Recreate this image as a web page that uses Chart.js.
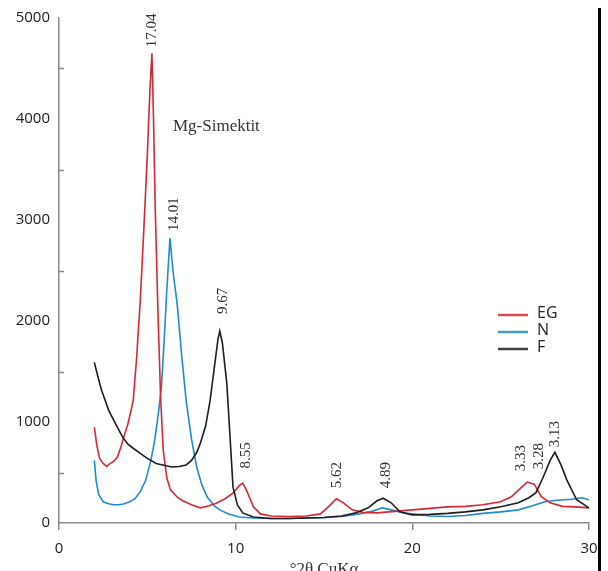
<!DOCTYPE html>
<html lang="tr">
<head>
<meta charset="utf-8">
<title>Mg-Simektit XRD</title>
<script src="https://cdn.jsdelivr.net/npm/chart.js@4.4.1/dist/chart.umd.min.js"></script>
<style>
    html, body { margin: 0; padding: 0; background: #fff; }
    #wrap { position: relative; width: 608px; height: 571px; overflow: hidden; }
    #edge { position: absolute; left: 598px; top: 8px; width: 3px; height: 563px; background: #000; }
</style>
</head>
<body>
<div id="wrap">
    <canvas id="xrdChart" width="608" height="571"></canvas>
    <div id="edge"></div>
</div>
<script>
// Diffraction patterns, °2θ against counts
const egAngles = [2.0, 2.15, 2.3, 2.5, 2.7, 2.9, 3.1, 3.3, 3.5, 3.7, 3.9, 4.1, 4.2, 4.4, 4.6, 4.8, 5.0, 5.15, 5.26, 5.35, 5.45, 5.6, 5.75, 5.9, 6.1, 6.3, 6.7, 7.0, 7.5, 8.0, 8.5, 8.9, 9.4, 9.85, 10.2, 10.4, 10.6, 11.0, 11.4, 12, 13, 14, 14.8, 15.3, 15.7, 16.1, 16.6, 17.2, 18, 19, 20, 21, 22, 23, 24, 25, 25.6, 26.1, 26.5, 26.9, 27.3, 27.8, 28.5, 29.2, 30];
const egCounts = [950, 760, 640, 590, 560, 590, 610, 650, 750, 870, 980, 1130, 1210, 1650, 2200, 2900, 3650, 4300, 4650, 4000, 3100, 2100, 1250, 720, 450, 330, 255, 220, 180, 150, 170, 195, 240, 295, 370, 395, 330, 160, 90, 70, 65, 70, 90, 170, 240, 200, 130, 105, 100, 115, 130, 145, 160, 165, 180, 210, 260, 340, 405, 385, 260, 200, 165, 160, 150];

const nAngles = [2.0, 2.1, 2.25, 2.5, 2.8, 3.1, 3.4, 3.7, 4.0, 4.3, 4.6, 4.9, 5.2, 5.4, 5.6, 5.8, 5.95, 6.1, 6.28, 6.45, 6.7, 6.95, 7.2, 7.5, 7.8, 8.1, 8.4, 8.8, 9.1, 9.6, 10.2, 11, 12, 13, 14, 15, 16, 17, 17.8, 18.3, 18.8, 19.5, 20.2, 21, 22, 23, 24, 25, 26, 26.8, 27.5, 28.2, 29, 29.6, 30];
const nCounts = [620, 420, 280, 210, 190, 180, 180, 190, 210, 240, 310, 420, 620, 800, 1050, 1350, 1800, 2300, 2820, 2500, 2150, 1650, 1210, 830, 550, 370, 255, 170, 130, 90, 60, 50, 45, 45, 50, 55, 65, 90, 120, 150, 130, 100, 85, 70, 65, 75, 95, 110, 130, 170, 210, 225, 235, 250, 230];

const fAngles = [2.0, 2.2, 2.4, 2.6, 2.8, 3.0, 3.3, 3.6, 3.9, 4.2, 4.6, 5.0, 5.5, 6.0, 6.4, 6.8, 7.2, 7.5, 7.8, 8.0, 8.3, 8.55, 8.8, 9.0, 9.1, 9.25, 9.5, 9.7, 9.85, 10.1, 10.4, 11, 12, 13, 14, 15, 16, 16.8, 17.5, 18, 18.35, 18.8, 19.3, 20, 21, 22, 23, 24, 25, 26, 26.6, 27, 27.4, 27.8, 28.07, 28.4, 28.75, 29.3, 30];
const fCounts = [1590, 1450, 1320, 1220, 1120, 1050, 950, 850, 780, 740, 690, 640, 590, 570, 555, 560, 575, 620, 700, 790, 960, 1210, 1550, 1820, 1900, 1780, 1380, 800, 355, 180, 100, 60, 45, 45, 50, 55, 70, 100, 150, 220, 245, 200, 110, 80, 85, 95, 110, 130, 160, 200, 250, 300, 450, 620, 700, 580, 425, 230, 150];

// d-spacing labels (Å) and where each sits: °2θ and the count at its lower end
const peakTexts = ['17.04', '14.01', '9.67', '8.55', '5.62', '4.89', '3.33', '3.28', '3.13'];
const peakAngles = [5.26, 6.5, 9.28, 10.58, 15.73, 18.5, 26.15, 27.2, 28.07];
const peakCounts = [4710, 2890, 2070, 540, 345, 345, 513, 532, 750];

const seriesNames = ['EG', 'N', 'F'];
const seriesColors = ['rgb(214, 40, 52)', 'rgb(32, 138, 210)', 'rgb(30, 30, 30)'];

const xTicks = [0, 10, 20, 30];
const yMax = 5000;

function toPoints(xs, ys) {
    return xs.map((x, i) => ({ x: x, y: ys[i] }));
}

/**
 * Small inward tick marks on the y axis at the half-thousands
 */
const minorTicks = {
    id: 'minorTicks',
    afterDraw(chart) {
        const ctx = chart.ctx;
        const y = chart.scales.y;
        ctx.save();
        ctx.strokeStyle = '#8a8a8a';
        ctx.lineWidth = 1.5;
        for (let v = 500; v < yMax; v += 1000) {
            const py = Math.round(y.getPixelForValue(v)) + 0.5;
            ctx.beginPath();
            ctx.moveTo(y.right, py);
            ctx.lineTo(y.right + 5, py);
            ctx.stroke();
        }
        ctx.restore();
    }
};

/**
 * Peak labels, sample name, legend and axis title
 */
const annotations = {
    id: 'annotations',
    afterDraw(chart) {
        const ctx = chart.ctx;
        const xs = chart.scales.x;
        const ys = chart.scales.y;
        const area = chart.chartArea;
        ctx.save();

        // rotated d-spacing values
        ctx.fillStyle = '#333';
        ctx.font = '15px "Liberation Serif", "Times New Roman", serif';
        ctx.textAlign = 'left';
        ctx.textBaseline = 'middle';
        peakTexts.forEach((t, i) => {
            ctx.save();
            ctx.translate(xs.getPixelForValue(peakAngles[i]), ys.getPixelForValue(peakCounts[i]));
            ctx.rotate(-Math.PI / 2);
            ctx.fillText(t, 0, 0);
            ctx.restore();
        });

        // sample name
        ctx.font = '17px "Liberation Serif", "Times New Roman", serif';
        ctx.fillText('Mg-Simektit', xs.getPixelForValue(6.45), ys.getPixelForValue(3925));

        // legend
        const legendX = 498;
        const legendY = [315, 332, 349];
        ctx.font = '16px "Open Sans", sans-serif';
        seriesNames.forEach((name, i) => {
            ctx.strokeStyle = seriesColors[i];
            ctx.globalAlpha = 0.85;
            ctx.lineWidth = 2.5;
            ctx.beginPath();
            ctx.moveTo(legendX, legendY[i]);
            ctx.lineTo(legendX + 30, legendY[i]);
            ctx.stroke();
            ctx.globalAlpha = 1;
            ctx.fillStyle = '#222';
            ctx.fillText(name, legendX + 39, legendY[i] - 2);
        });

        // x axis title, sits partly below the canvas edge
        ctx.fillStyle = '#333';
        ctx.font = '17px "Liberation Serif", "Times New Roman", serif';
        ctx.textAlign = 'center';
        ctx.textBaseline = 'top';
        ctx.fillText('°2θ CuKα', (area.left + area.right) / 2, area.bottom + 38);

        ctx.restore();
    }
};

function initXrdChart() {
    const ctx = document.getElementById('xrdChart').getContext('2d');
    const line = (label, xs, ys, color) => ({
        label: label,
        data: toPoints(xs, ys),
        borderColor: color,
        borderWidth: 1.6,
        pointRadius: 0,
        tension: 0,
        fill: false
    });

    new Chart(ctx, {
        type: 'line',
        data: {
            // black drawn on top, blue underneath
            datasets: [
                line(seriesNames[2], fAngles, fCounts, seriesColors[2]),
                line(seriesNames[0], egAngles, egCounts, seriesColors[0]),
                line(seriesNames[1], nAngles, nCounts, seriesColors[1])
            ]
        },
        options: {
            responsive: false,
            animation: false,
            layout: { padding: { left: 0, right: 19, top: 16, bottom: 0 } },
            plugins: {
                legend: { display: false },
                tooltip: { enabled: false }
            },
            scales: {
                x: {
                    type: 'linear',
                    min: xTicks[0],
                    max: xTicks[xTicks.length - 1],
                    afterFit: s => { s.height = 48; },
                    afterBuildTicks: s => { s.ticks = xTicks.map(v => ({ value: v })); },
                    ticks: {
                        color: '#222',
                        padding: 10,
                        maxRotation: 0,
                        font: { family: '"Open Sans", sans-serif', size: 15 },
                        callback: v => String(v)
                    },
                    grid: {
                        drawOnChartArea: false,
                        drawTicks: true,
                        tickLength: 7,
                        color: '#8a8a8a',
                        lineWidth: 1.5
                    },
                    border: { color: '#8a8a8a', width: 1.5 }
                },
                y: {
                    min: 0,
                    max: yMax,
                    afterFit: s => { s.width = 59; },
                    ticks: {
                        stepSize: 1000,
                        color: '#222',
                        padding: 9,
                        font: { family: '"Open Sans", sans-serif', size: 15 },
                        callback: v => String(v)
                    },
                    grid: { drawOnChartArea: false, drawTicks: false },
                    border: { color: '#8a8a8a', width: 1.5 }
                }
            }
        },
        plugins: [minorTicks, annotations]
    });
}

document.addEventListener('DOMContentLoaded', function() {
    initXrdChart();
});
</script>
</body>
</html>
